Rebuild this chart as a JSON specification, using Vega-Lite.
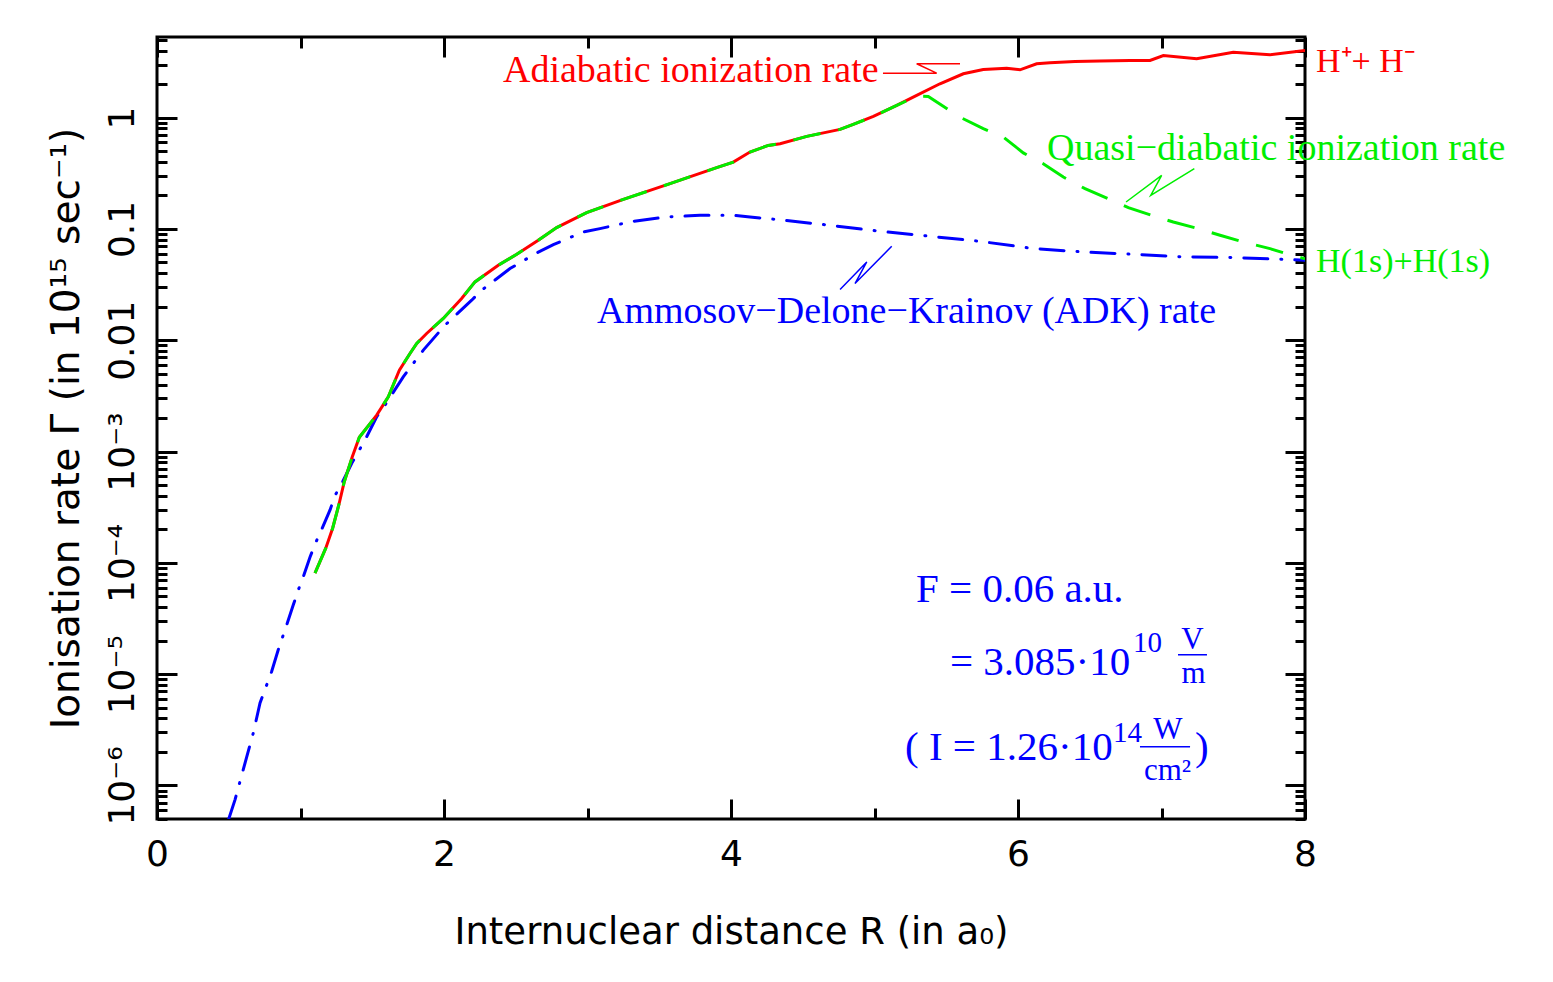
{
  "$schema": "https://vega.github.io/schema/vega-lite/v6.json",
  "autosize": {"type": "none"},
  "padding": {"left": 157, "top": 37, "right": 248, "bottom": 163},
  "width": 1148,
  "height": 782,
  "background": "white",
  "config": {
    "view": {"stroke": "black", "strokeWidth": 3, "fill": "white"},
    "axis": {
      "grid": false, "domain": false, "labelFlush": false, "labelOverlap": false, "labelBound": false,
      "tickColor": "black", "tickWidth": 3, "labelColor": "black", "titleColor": "black",
      "labelFont": "DejaVu Sans", "titleFont": "DejaVu Sans", "titleFontWeight": "normal",
      "labelFontSize": 36, "titleFontSize": 37
    }
  },
  "datasets": {
    "adiabatic": [
      {"R":1.101,"rate":8.08e-5},{"R":1.176,"rate":1.354e-4},{"R":1.224,"rate":2.048e-4},{"R":1.270,"rate":3.432e-4},
      {"R":1.305,"rate":5.362e-4},{"R":1.361,"rate":8.99e-4},{"R":1.410,"rate":1.342e-3},{"R":1.531,"rate":2.127e-3},
      {"R":1.612,"rate":3.105e-3},{"R":1.689,"rate":5.39e-3},{"R":1.763,"rate":7.61e-3},{"R":1.810,"rate":9.36e-3},
      {"R":1.879,"rate":1.15e-2},{"R":1.995,"rate":1.569e-2},{"R":2.123,"rate":2.371e-2},{"R":2.216,"rate":3.341e-2},
      {"R":2.378,"rate":4.718e-2},{"R":2.507,"rate":5.923e-2},{"R":2.657,"rate":7.91e-2},{"R":2.785,"rate":0.1028},
      {"R":2.994,"rate":0.1401},{"R":3.250,"rate":0.1845},{"R":3.575,"rate":0.2551},{"R":3.900,"rate":0.3551},
      {"R":4.016,"rate":0.3987},{"R":4.132,"rate":0.4903},{"R":4.260,"rate":0.5628},{"R":4.342,"rate":0.5829},
      {"R":4.528,"rate":0.6781},{"R":4.760,"rate":0.7834},{"R":4.852,"rate":0.8688},{"R":4.992,"rate":1.025},
      {"R":5.155,"rate":1.286},{"R":5.294,"rate":1.582},{"R":5.456,"rate":2.014},{"R":5.619,"rate":2.476},
      {"R":5.758,"rate":2.706},{"R":5.921,"rate":2.781},{"R":6.014,"rate":2.689},{"R":6.130,"rate":3.045},
      {"R":6.223,"rate":3.108},{"R":6.397,"rate":3.193},{"R":6.571,"rate":3.226},{"R":6.781,"rate":3.259},
      {"R":6.920,"rate":3.259},{"R":7.013,"rate":3.614},{"R":7.245,"rate":3.376},{"R":7.500,"rate":3.869},
      {"R":7.756,"rate":3.667},{"R":8.0,"rate":4.008}
    ],
    "quasi": [
      {"R":1.101,"rate":8.08e-5},{"R":1.176,"rate":1.354e-4},{"R":1.224,"rate":2.048e-4},{"R":1.270,"rate":3.432e-4},
      {"R":1.305,"rate":5.362e-4},{"R":1.361,"rate":8.99e-4},{"R":1.410,"rate":1.342e-3},{"R":1.531,"rate":2.127e-3},
      {"R":1.612,"rate":3.105e-3},{"R":1.689,"rate":5.39e-3},{"R":1.763,"rate":7.61e-3},{"R":1.810,"rate":9.36e-3},
      {"R":1.879,"rate":1.15e-2},{"R":1.995,"rate":1.569e-2},{"R":2.123,"rate":2.371e-2},{"R":2.216,"rate":3.341e-2},
      {"R":2.378,"rate":4.718e-2},{"R":2.507,"rate":5.923e-2},{"R":2.657,"rate":7.91e-2},{"R":2.785,"rate":0.1028},
      {"R":2.994,"rate":0.1401},{"R":3.250,"rate":0.1845},{"R":3.575,"rate":0.2551},{"R":3.900,"rate":0.3551},
      {"R":4.016,"rate":0.3987},{"R":4.132,"rate":0.4903},{"R":4.260,"rate":0.5628},{"R":4.342,"rate":0.5829},
      {"R":4.528,"rate":0.6781},{"R":4.760,"rate":0.7834},{"R":4.852,"rate":0.8688},{"R":4.992,"rate":1.025},
      {"R":5.155,"rate":1.286},{"R":5.294,"rate":1.56},{"R":5.375,"rate":1.549},{"R":5.596,"rate":1.010},
      {"R":5.758,"rate":0.795},{"R":5.898,"rate":0.6683},{"R":6.037,"rate":0.4822},{"R":6.176,"rate":0.3858},
      {"R":6.316,"rate":0.2925},{"R":6.467,"rate":0.2301},{"R":6.629,"rate":0.1872},{"R":6.769,"rate":0.1554},
      {"R":6.932,"rate":0.1326},{"R":7.082,"rate":0.1154},{"R":7.256,"rate":0.1007},{"R":7.408,"rate":0.0877},
      {"R":7.570,"rate":0.0763},{"R":7.756,"rate":0.0666},{"R":7.907,"rate":0.058},{"R":8.0,"rate":0.054}
    ],
    "adk": [
      {"R":0.5,"rate":5e-7},{"R":0.544,"rate":7.47e-7},{"R":0.601,"rate":1.389e-6},{"R":0.671,"rate":2.963e-6},
      {"R":0.718,"rate":5.508e-6},{"R":0.799,"rate":1.058e-5},{"R":0.845,"rate":1.657e-5},{"R":0.904,"rate":2.777e-5},
      {"R":0.950,"rate":4.198e-5},{"R":0.985,"rate":5.725e-5},{"R":1.020,"rate":7.53e-5},{"R":1.066,"rate":1.125e-4},
      {"R":1.106,"rate":1.52e-4},{"R":1.148,"rate":2.006e-4},{"R":1.206,"rate":2.989e-4},{"R":1.240,"rate":4.016e-4},
      {"R":1.294,"rate":5.362e-4},{"R":1.357,"rate":7.84e-4},{"R":1.410,"rate":1.032e-3},{"R":1.461,"rate":1.358e-3},
      {"R":1.531,"rate":2.054e-3},{"R":1.589,"rate":2.616e-3},{"R":1.716,"rate":4.693e-3},{"R":1.786,"rate":6.19e-3},
      {"R":1.856,"rate":8.15e-3},{"R":2.007,"rate":1.366e-2},{"R":2.193,"rate":2.289e-2},{"R":2.263,"rate":2.816e-2},
      {"R":2.460,"rate":4.405e-2},{"R":2.646,"rate":6.083e-2},{"R":2.762,"rate":7.237e-2},{"R":2.971,"rate":9.39e-2},
      {"R":3.087,"rate":0.1007},{"R":3.319,"rate":0.1171},{"R":3.552,"rate":0.128},{"R":3.784,"rate":0.1326},
      {"R":4.016,"rate":0.1326},{"R":4.132,"rate":0.128},{"R":4.342,"rate":0.1208},{"R":4.690,"rate":0.1078},
      {"R":5.038,"rate":0.0953},{"R":5.387,"rate":0.0859},{"R":5.735,"rate":0.0774},{"R":6.107,"rate":0.0666},
      {"R":6.455,"rate":0.0621},{"R":6.804,"rate":0.0592},{"R":7.152,"rate":0.056},{"R":7.500,"rate":0.0553},
      {"R":7.873,"rate":0.0531},{"R":8.0,"rate":0.0523}
    ],
    "connectors": [
      {"series":"adiabatic","i":0,"R":5.059,"rate":2.51},{"series":"adiabatic","i":1,"R":5.433,"rate":2.51},
      {"series":"adiabatic","i":2,"R":5.294,"rate":3.045},{"series":"adiabatic","i":3,"R":5.596,"rate":3.045},
      {"series":"adk","i":0,"R":4.760,"rate":0.02857},{"series":"adk","i":1,"R":4.946,"rate":0.05049},
      {"series":"adk","i":2,"R":4.864,"rate":0.03233},{"series":"adk","i":3,"R":5.120,"rate":0.06984},
      {"series":"quasi","i":0,"R":6.753,"rate":0.1745},{"series":"quasi","i":1,"R":7.001,"rate":0.3029},
      {"series":"quasi","i":2,"R":6.925,"rate":0.2003},{"series":"quasi","i":3,"R":7.229,"rate":0.3478}
    ],
    "names": [
      {"label":"Adiabatic ionization rate","series":"adiabatic","R":2.411,"rate":2.069},
      {"label":"Quasi−diabatic ionization rate","series":"quasi","R":6.202,"rate":0.4129},
      {"label":"Ammosov−Delone−Krainov (ADK) rate","series":"adk","R":3.066,"rate":0.01423}
    ],
    "ends": [
      {"label":"H⁺+ H⁻","series":"adiabatic","R":8.077,"rate":2.544},
      {"label":"H(1s)+H(1s)","series":"quasi","R":8.077,"rate":0.04083}
    ],
    "eq": [
      {"label":"F = 0.06 a.u.","R":5.289,"rate":4.467e-5},
      {"label":"= 3.085·10","R":5.526,"rate":9.886e-6},
      {"label":"( I = 1.26·10","R":5.213,"rate":1.707e-6},
      {"label":")","R":7.233,"rate":1.707e-6}
    ],
    "sup": [
      {"label":"10","R":6.801,"rate":1.59e-5},
      {"label":"14","R":6.662,"rate":2.476e-6}
    ],
    "frac": [
      {"label":"V","R":7.216,"rate":1.7e-5},
      {"label":"m","R":7.223,"rate":8.4e-6},
      {"label":"W","R":7.045,"rate":2.62e-6},
      {"label":"cm²","R":7.042,"rate":1.11e-6}
    ],
    "bars": [
      {"R":7.115,"R2":7.317,"rate":1.494e-5},
      {"R":6.850,"R2":7.199,"rate":2.234e-6}
    ]
  },
  "layer": [
    {
      "data": {"name": "adk"},
      "mark": {"type": "line", "color": "#0000ff", "strokeWidth": 3, "strokeDash": [24, 13, 1, 13], "strokeCap": "round", "clip": true},
      "encoding": {
        "x": {"field": "R", "type": "quantitative", "scale": {"domain": [0, 8], "nice": false, "zero": false},
              "axis": {"orient": "bottom", "values": [0, 2, 4, 6, 8], "ticks": false, "labelPadding": 18,
                       "title": "Internuclear distance R (in a₀)", "titlePadding": 42}},
        "y": {"field": "rate", "type": "quantitative", "scale": {"type": "log", "domain": [5e-7, 5.3], "nice": false},
              "axis": {"orient": "left", "values": [1e-6, 1e-5, 1e-4, 1e-3, 0.01, 0.1, 1], "ticks": false, "labelAngle": -90, "labelPadding": 16,
                       "labelExpr": "datum.value >= 0.9 ? '1' : datum.value >= 0.09 ? '0.1' : datum.value >= 0.009 ? '0.01' : datum.value >= 0.0009 ? '10⁻³' : datum.value >= 0.00009 ? '10⁻⁴' : datum.value >= 0.000009 ? '10⁻⁵' : '10⁻⁶'",
                       "title": "Ionisation rate Γ  (in 10¹⁵ sec⁻¹)", "titleFontSize": 39, "titlePadding": 18}}
      }
    },
    {
      "data": {"name": "adiabatic"},
      "mark": {"type": "line", "color": "#ff0000", "strokeWidth": 3, "clip": true},
      "encoding": {
        "x": {"field": "R", "type": "quantitative", "scale": {"domain": [0, 8], "nice": false, "zero": false},
              "axis": {"orient": "bottom", "values": [0, 2, 4, 6, 8], "labels": false, "title": null, "tickSize": -20}},
        "y": {"field": "rate", "type": "quantitative", "scale": {"type": "log", "domain": [5e-7, 5.3], "nice": false},
              "axis": {"orient": "left", "values": [1e-6, 1e-5, 1e-4, 1e-3, 0.01, 0.1, 1], "labels": false, "title": null, "tickSize": -20}}
      }
    },
    {
      "data": {"name": "quasi"},
      "mark": {"type": "line", "color": "#00ee00", "strokeWidth": 3, "strokeDash": [28, 18], "clip": true},
      "encoding": {
        "x": {"field": "R", "type": "quantitative", "scale": {"domain": [0, 8], "nice": false, "zero": false},
              "axis": {"orient": "bottom", "values": [1, 3, 5, 7], "labels": false, "title": null, "tickSize": -11}},
        "y": {"field": "rate", "type": "quantitative", "scale": {"type": "log", "domain": [5e-7, 5.3], "nice": false},
              "axis": {"orient": "left", "values": [5e-7,6e-7,7e-7,8e-7,9e-7,2e-6,3e-6,4e-6,5e-6,6e-6,7e-6,8e-6,9e-6,2e-5,3e-5,4e-5,5e-5,6e-5,7e-5,8e-5,9e-5,0.0002,0.0003,0.0004,0.0005,0.0006,0.0007,0.0008,0.0009,0.002,0.003,0.004,0.005,0.006,0.007,0.008,0.009,0.02,0.03,0.04,0.05,0.06,0.07,0.08,0.09,0.2,0.3,0.4,0.5,0.6,0.7,0.8,0.9,2,3,4,5], "labels": false, "title": null, "tickSize": -10}}
      }
    },
    {
      "data": {"name": "connectors"},
      "mark": {"type": "line", "strokeWidth": 1.5},
      "encoding": {
        "x": {"field": "R", "type": "quantitative", "scale": {"domain": [0, 8], "nice": false, "zero": false},
              "axis": {"orient": "top", "values": [0, 2, 4, 6, 8], "labels": false, "title": null, "tickSize": -20}},
        "y": {"field": "rate", "type": "quantitative", "scale": {"type": "log", "domain": [5e-7, 5.3], "nice": false},
              "axis": {"orient": "right", "values": [1e-6, 1e-5, 1e-4, 1e-3, 0.01, 0.1, 1], "labels": false, "title": null, "tickSize": -20}},
        "color": {"field": "series", "type": "nominal", "scale": {"domain": ["adiabatic", "quasi", "adk"], "range": ["#ff0000", "#00ee00", "#0000ff"]}, "legend": null},
        "order": {"field": "i", "type": "quantitative"}
      }
    },
    {
      "data": {"name": "names"},
      "mark": {"type": "text", "font": "Liberation Serif", "fontSize": 38, "align": "left", "baseline": "alphabetic"},
      "encoding": {
        "x": {"field": "R", "type": "quantitative", "scale": {"domain": [0, 8], "nice": false, "zero": false},
              "axis": {"orient": "top", "values": [1, 3, 5, 7], "labels": false, "title": null, "tickSize": -11}},
        "y": {"field": "rate", "type": "quantitative", "scale": {"type": "log", "domain": [5e-7, 5.3], "nice": false},
              "axis": {"orient": "right", "values": [5e-7,6e-7,7e-7,8e-7,9e-7,2e-6,3e-6,4e-6,5e-6,6e-6,7e-6,8e-6,9e-6,2e-5,3e-5,4e-5,5e-5,6e-5,7e-5,8e-5,9e-5,0.0002,0.0003,0.0004,0.0005,0.0006,0.0007,0.0008,0.0009,0.002,0.003,0.004,0.005,0.006,0.007,0.008,0.009,0.02,0.03,0.04,0.05,0.06,0.07,0.08,0.09,0.2,0.3,0.4,0.5,0.6,0.7,0.8,0.9,2,3,4,5], "labels": false, "title": null, "tickSize": -10}},
        "color": {"field": "series", "type": "nominal", "scale": {"domain": ["adiabatic", "quasi", "adk"], "range": ["#ff0000", "#00ee00", "#0000ff"]}, "legend": null},
        "text": {"field": "label", "type": "nominal"}
      }
    },
    {
      "data": {"name": "ends"},
      "mark": {"type": "text", "font": "Liberation Serif", "fontSize": 34, "align": "left", "baseline": "alphabetic"},
      "encoding": {
        "x": {"field": "R", "type": "quantitative", "scale": {"domain": [0, 8], "nice": false, "zero": false}, "axis": null},
        "y": {"field": "rate", "type": "quantitative", "scale": {"type": "log", "domain": [5e-7, 5.3], "nice": false}, "axis": null},
        "color": {"field": "series", "type": "nominal", "scale": {"domain": ["adiabatic", "quasi", "adk"], "range": ["#ff0000", "#00ee00", "#0000ff"]}, "legend": null},
        "text": {"field": "label", "type": "nominal"}
      }
    },
    {
      "data": {"name": "eq"},
      "mark": {"type": "text", "font": "Liberation Serif", "fontSize": 41, "align": "left", "baseline": "alphabetic", "color": "#0000ff"},
      "encoding": {
        "x": {"field": "R", "type": "quantitative", "scale": {"domain": [0, 8], "nice": false, "zero": false}, "axis": null},
        "y": {"field": "rate", "type": "quantitative", "scale": {"type": "log", "domain": [5e-7, 5.3], "nice": false}, "axis": null},
        "text": {"field": "label", "type": "nominal"}
      }
    },
    {
      "data": {"name": "sup"},
      "mark": {"type": "text", "font": "Liberation Serif", "fontSize": 29, "align": "left", "baseline": "alphabetic", "color": "#0000ff"},
      "encoding": {
        "x": {"field": "R", "type": "quantitative", "scale": {"domain": [0, 8], "nice": false, "zero": false}, "axis": null},
        "y": {"field": "rate", "type": "quantitative", "scale": {"type": "log", "domain": [5e-7, 5.3], "nice": false}, "axis": null},
        "text": {"field": "label", "type": "nominal"}
      }
    },
    {
      "data": {"name": "frac"},
      "mark": {"type": "text", "font": "Liberation Serif", "fontSize": 31, "align": "center", "baseline": "alphabetic", "color": "#0000ff"},
      "encoding": {
        "x": {"field": "R", "type": "quantitative", "scale": {"domain": [0, 8], "nice": false, "zero": false}, "axis": null},
        "y": {"field": "rate", "type": "quantitative", "scale": {"type": "log", "domain": [5e-7, 5.3], "nice": false}, "axis": null},
        "text": {"field": "label", "type": "nominal"}
      }
    },
    {
      "data": {"name": "bars"},
      "mark": {"type": "rule", "color": "#0000ff", "strokeWidth": 1.5},
      "encoding": {
        "x": {"field": "R", "type": "quantitative", "scale": {"domain": [0, 8], "nice": false, "zero": false}, "axis": null},
        "x2": {"field": "R2"},
        "y": {"field": "rate", "type": "quantitative", "scale": {"type": "log", "domain": [5e-7, 5.3], "nice": false}, "axis": null}
      }
    }
  ],
  "resolve": {"axis": {"x": "independent", "y": "independent"}}
}
